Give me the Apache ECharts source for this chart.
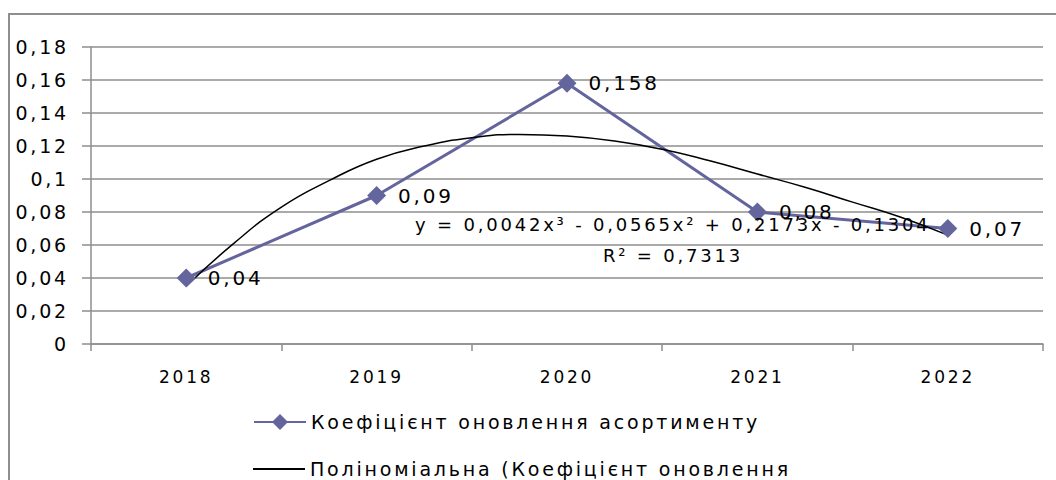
<!DOCTYPE html>
<html>
<head>
<meta charset="utf-8">
<script src="https://cdn.jsdelivr.net/npm/echarts@6/dist/echarts.min.js"></script>
<style>
  html, body { margin: 0; padding: 0; background: #fff; }
  #chart { width: 1056px; height: 480px; }
  /* розріджений текст, як у Excel */
  #chart text { letter-spacing: 2.8px; }
</style>
</head>
<body>
<div id="chart"></div>
<script>
const years = ["2018", "2019", "2020", "2021", "2022"];
const renewal = [0.04, 0.09, 0.158, 0.08, 0.07];

// точки лінії тренду (x = номер року)
const trendX = [1, 1.25, 1.5, 1.75, 2, 2.25, 2.5, 2.75, 3, 3.25, 3.5, 3.75, 4, 4.25, 4.5, 4.75, 5];
const trendY = [0.035, 0.061, 0.083, 0.099, 0.112, 0.12, 0.125, 0.127, 0.126, 0.123, 0.118, 0.111, 0.103, 0.095, 0.086, 0.077, 0.066];

const seriesName = "Коефіцієнт оновлення асортименту";
const trendName = "Поліноміальна (Коефіцієнт оновлення";
const equation = "y = 0,0042x³ - 0,0565x² + 0,2173x - 0,1304";
const rSquared = "R² = 0,7313";

const font = "DejaVu Sans";
const gray = "#8e8e8e";
const fmt = (v) => String(+v.toFixed(3)).replace(".", ",");

const chart = echarts.init(document.getElementById("chart"), null, { renderer: "svg" });

const legendText = { fontSize: 19, lineHeight: 22, color: "#000", fontFamily: font };

const option = {
  animation: false,
  textStyle: { fontFamily: font, color: "#000" },
  grid: { left: 91, right: 13, top: 47, bottom: 136 },
  legend: [
    {
      left: 248,
      top: 406,
      itemWidth: 52,
      itemHeight: 20,
      textStyle: legendText,
      data: [seriesName],
    },
    {
      left: 248,
      top: 453,
      itemWidth: 52,
      itemHeight: 2,
      textStyle: legendText,
      data: [{ name: trendName, icon: "rect" }],
    },
  ],
  xAxis: [
    {
      type: "category",
      data: years,
      boundaryGap: true,
      axisLine: { lineStyle: { color: gray, width: 1.5 } },
      axisTick: { show: true, length: 7, interval: 0, lineStyle: { color: gray, width: 1.5 } },
      axisLabel: { fontSize: 17, margin: 24, color: "#000" },
    },
    {
      type: "value",
      min: 0.5,
      max: 5.5,
      show: false,
    },
  ],
  yAxis: {
    type: "value",
    min: 0,
    max: 0.18,
    interval: 0.02,
    axisLine: { show: true, lineStyle: { color: gray, width: 1.5 } },
    axisTick: { show: true, length: 9, lineStyle: { color: gray, width: 1.5 } },
    axisLabel: { fontSize: 19, margin: 22, color: "#000", formatter: fmt },
    splitLine: { lineStyle: { color: gray, width: 1.5 } },
  },
  series: [
    {
      name: seriesName,
      type: "line",
      data: renewal,
      symbol: "diamond",
      symbolSize: 19,
      itemStyle: { color: "#65659e" },
      lineStyle: { color: "#65659e", width: 3 },
      label: {
        show: true,
        position: "right",
        distance: 12,
        fontSize: 20,
        color: "#000",
        formatter: (p) => fmt(p.value),
      },
    },
    {
      name: trendName,
      type: "line",
      xAxisIndex: 1,
      data: trendX.map((x, i) => [x, trendY[i]]),
      smooth: true,
      symbol: "none",
      itemStyle: { color: "#000" },
      lineStyle: { color: "#000", width: 1.5 },
      z: 3,
    },
  ],
  graphic: [
    {
      type: "rect",
      shape: { x: 9, y: 14, width: 1100, height: 520 },
      style: { fill: "none", stroke: gray, lineWidth: 2 },
      silent: true,
    },
    {
      type: "text",
      z: 10,
      style: { x: 415, y: 224, text: equation, fontSize: 18, fontFamily: font, fill: "#000", verticalAlign: "middle" },
    },
    {
      type: "text",
      z: 10,
      style: { x: 603, y: 255, text: rSquared, fontSize: 18, fontFamily: font, fill: "#000", verticalAlign: "middle" },
    },
  ],
};

chart.setOption(option);
window.addEventListener("resize", () => chart.resize());
</script>
</body>
</html>
